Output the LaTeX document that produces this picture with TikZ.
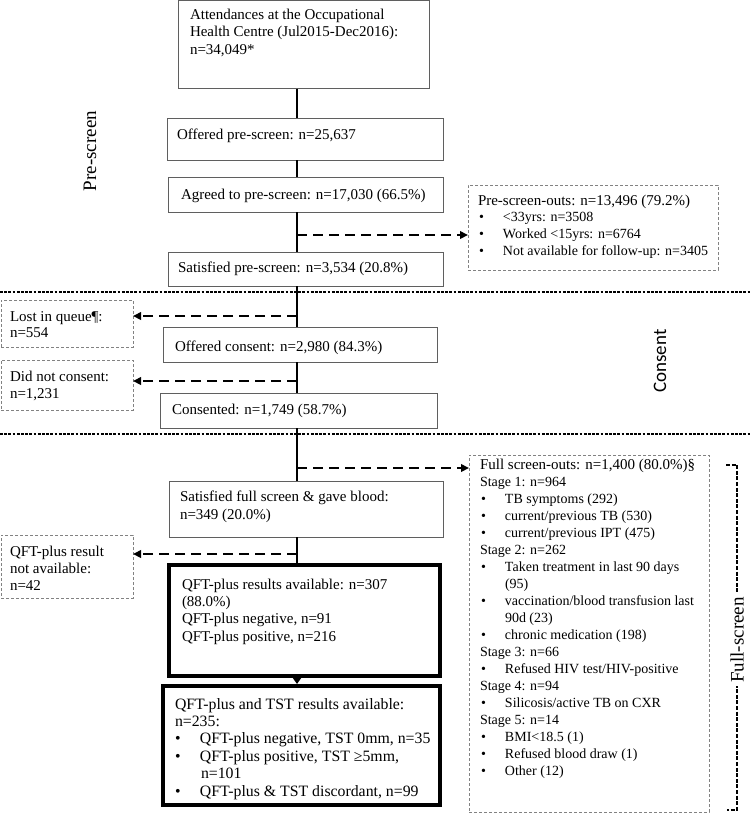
\documentclass[tikz,border=0pt]{standalone}
\usepackage{fontspec}
\setmainfont{Liberation Serif}
\newfontfamily\calibrifont{Carlito}
\usetikzlibrary{arrows.meta}
\newcommand\fbul[1]{\hspace*{1pt}\makebox[24pt][l]{•}#1}
\newcommand\fcont[1]{\hspace*{25pt}#1}
\newcommand\ptx[1]{\parbox[t]{300pt}{\raggedright #1}}
\newcommand\titlefont{\fontsize{15}{17}\selectfont}
\begin{document}
\begin{tikzpicture}[x=1pt,y=-1pt,
  mainbox/.style={draw={rgb,255:red,95;green,95;blue,95}, line width=0.8pt, fill=white, anchor=north west, inner sep=0pt, outer sep=0pt},
  dbox/.style={draw={rgb,255:red,130;green,130;blue,130}, line width=0.7pt, dash pattern=on 3pt off 2pt, fill=white, anchor=north west, inner sep=0pt, outer sep=0pt},
  thickbox/.style={draw=black, line width=4pt, fill=white, anchor=north west, inner sep=0pt, outer sep=0pt},
  txt/.style={anchor=base west, inner sep=0pt, outer sep=0pt, font=\fontsize{15}{17.4}\selectfont},
  spine/.style={line width=2.4pt, draw=black},
  darrow/.style={line width=2.2pt, dash pattern=on 10pt off 6pt, -{Triangle[length=8pt,width=7.5pt]}},
  divider/.style={line width=2.8pt, dash pattern=on 2.8pt off 1.4pt},
  bracket/.style={line width=2.4pt, dash pattern=on 4pt off 1.6pt},
  sidelabel/.style={rotate=90, inner sep=0pt, font=\fontsize{19}{19}\selectfont},
]
\useasboundingbox[fill=white] (0,0) rectangle (751,815);

% boxes
\node[mainbox, minimum width=251pt, minimum height=88pt] (top) at (178,0.5) {};
\node[mainbox, minimum width=276pt, minimum height=42pt] (opre) at (167,118) {};
\node[mainbox, minimum width=275pt, minimum height=35pt] (agree) at (168,177) {};
\node[mainbox, minimum width=275pt, minimum height=34pt] (satpre) at (168,252) {};
\node[dbox, minimum width=250pt, minimum height=85pt] (pso) at (468,185) {};
\node[dbox, minimum width=132pt, minimum height=47pt] (lost) at (1,300) {};
\node[mainbox, minimum width=274pt, minimum height=35pt] (ocons) at (163,327) {};
\node[dbox, minimum width=132pt, minimum height=50pt] (dnc) at (1,360) {};
\node[mainbox, minimum width=277pt, minimum height=35pt] (cons) at (160,393) {};
\node[dbox, minimum width=240pt, minimum height=357pt] (fso) at (469,455) {};
\node[mainbox, minimum width=274pt, minimum height=56pt] (satfull) at (169,481) {};
\node[dbox, minimum width=132pt, minimum height=63pt] (qna) at (1,535) {};
\node[thickbox, minimum width=271pt, minimum height=111pt] (q1) at (169,565) {};
\node[thickbox, minimum width=277pt, minimum height=119pt] (q2) at (163,686) {};

% texts
\node[txt, font=\fontsize{15}{17.5}\selectfont] (t-top) at (190,19) {\ptx{Attendances at the Occupational\\Health Centre (Jul2015-Dec2016):\\n=34,049*}};
\node[txt] (t-opre) at (177,139) {Offered pre-screen: n=25,637};
\node[txt] (t-agree) at (181,199) {Agreed to pre-screen: n=17,030 (66.5\%)};
\node[txt] (t-satpre) at (178,272) {Satisfied pre-screen: n=3,534 (20.8\%)};
\node[txt, font=\fontsize{14}{16.8}\selectfont] (t-pso) at (478,205) {\ptx{{\titlefont Pre-screen-outs: n=13,496 (79.2\%)}\\\fbul{<33yrs: n=3508}\\\fbul{Worked <15yrs: n=6764}\\\fbul{Not available for follow-up: n=3405}}};
\node[txt, font=\fontsize{15}{16.5}\selectfont] (t-lost) at (10,321) {\ptx{Lost in queue¶:\\n=554}};
\node[txt] (t-ocons) at (175,351) {Offered consent: n=2,980 (84.3\%)};
\node[txt, font=\fontsize{15}{17}\selectfont] (t-dnc) at (10,381) {\ptx{Did not consent:\\n=1,231}};
\node[txt] (t-cons) at (172,414) {Consented: n=1,749 (58.7\%)};
\node[txt, font=\fontsize{14}{17}\selectfont] (t-fso) at (480,469) {\ptx{{\titlefont Full screen-outs: n=1,400 (80.0\%)§}\\
Stage 1: n=964\\
\fbul{TB symptoms (292)}\\
\fbul{current/previous TB (530)}\\
\fbul{current/previous IPT (475)}\\
Stage 2: n=262\\
\fbul{Taken treatment in last 90 days}\\
\fcont{(95)}\\
\fbul{vaccination/blood transfusion last}\\
\fcont{90d (23)}\\
\fbul{chronic medication (198)}\\
Stage 3: n=66\\
\fbul{Refused HIV test/HIV-positive}\\
Stage 4: n=94\\
\fbul{Silicosis/active TB on CXR}\\
Stage 5: n=14\\
\fbul{BMI<18.5 (1)}\\
\fbul{Refused blood draw (1)}\\
\fbul{Other (12)}}};
\node[txt, font=\fontsize{15}{18}\selectfont] (t-satfull) at (180,501) {\ptx{Satisfied full screen \& gave blood:\\n=349 (20.0\%)}};
\node[txt, font=\fontsize{15}{17}\selectfont] (t-qna) at (10,556) {\ptx{QFT-plus result\\not available:\\n=42}};
\node[txt] (t-q1) at (182,589) {\ptx{QFT-plus results available: n=307\\(88.0\%)\\QFT-plus negative, n=91\\QFT-plus positive, n=216}};
\node[txt, font=\fontsize{15.8}{17.4}\selectfont] (t-q2) at (175,709) {\ptx{QFT-plus and TST results available:\\n=235:\\
\hspace*{-1pt}\fbul{\hspace*{1pt}QFT-plus negative, TST 0mm, n=35}\\
\hspace*{-1pt}\fbul{\hspace*{1pt}QFT-plus positive, TST ≥5mm,}\\
\hspace*{26pt}n=101\\
\hspace*{-1pt}\fbul{\hspace*{1pt}QFT-plus \& TST discordant, n=99}}};

% spine
\coordinate (sp) at (297,0);
\draw[spine] (top.south -| sp) -- (opre.north -| sp);
\draw[spine] (opre.south -| sp) -- (agree.north -| sp);
\draw[spine] (agree.south -| sp) -- (satpre.north -| sp);
\draw[spine] (satpre.south -| sp) -- (ocons.north -| sp);
\draw[spine] (ocons.south -| sp) -- (cons.north -| sp);
\draw[spine] (cons.south -| sp) -- (satfull.north -| sp);
\draw[spine] (satfull.south -| sp) -- (q1.north -| sp);
\draw[spine, -{Triangle[length=6pt,width=8pt]}] ([yshift=-2pt]q1.south -| sp) -- ([yshift=2pt]q2.north -| sp);

% dividers
\coordinate (dv1a) at (0,292);
\coordinate (dv1b) at (751,292);
\coordinate (dv2a) at (0,434);
\coordinate (dv2b) at (751,434);
\draw[divider] (dv1a) -- (dv1b);
\draw[divider] (dv2a) -- (dv2b);

% dashed exclusion arrows
\coordinate (a1) at (297,235);
\coordinate (a2) at (297,316);
\coordinate (a3) at (297,381);
\coordinate (a4) at (297,468);
\coordinate (a5) at (297,554);
\draw[darrow] (a1) -- (a1 -| pso.west);
\draw[darrow] (a2) -- (a2 -| lost.east);
\draw[darrow] (a3) -- (a3 -| dnc.east);
\draw[darrow] (a4) -- (a4 -| fso.west);
\draw[darrow] (a5) -- (a5 -| qna.east);

% bracket and phase labels
\coordinate (br1) at (726,465);
\coordinate (br2) at (737,465);
\coordinate (br3) at (737,810);
\coordinate (br4) at (727,810);
\draw[bracket] (br1) -- (br2) -- (br3) -- (br4);
\node[sidelabel, fill=white, inner sep=3pt] (lab-full) at (737,640) {Full-screen};
\node[sidelabel] (lab-pre) at (90,151) {Pre-screen};
\node[sidelabel, font=\calibrifont\fontsize{19}{19}\selectfont] (lab-cons) at (660,361) {Consent};
\end{tikzpicture}
\end{document}
